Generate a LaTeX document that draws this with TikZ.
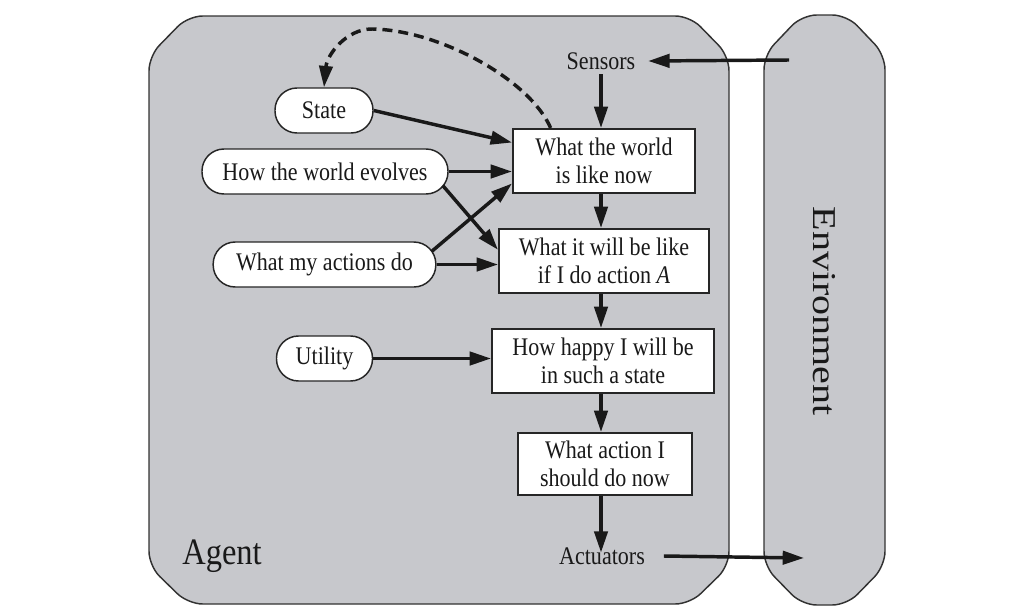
\documentclass[tikz,border=0pt]{standalone}
\usepackage{fontspec}
\setmainfont{Liberation Serif}[FakeStretch=0.87]
\newfontfamily\envfont{Liberation Serif}
\usetikzlibrary{arrows.meta,calc}
\definecolor{panel}{RGB}{199,200,204}
\definecolor{edge}{RGB}{50,50,50}
\begin{document}
\begin{tikzpicture}[x=0.75pt,y=-0.75pt,
  every node/.style={font=\fontsize{19}{21}\selectfont, text=black!90},
  panelbox/.style={draw=edge, line width=1.1pt, fill=panel, rounded corners=11pt},
  proc/.style={draw=black!85, line width=1.5pt, fill=white, align=center, inner sep=0pt, minimum height=48pt},
  pill/.style={draw=black!85, line width=1.1pt, fill=white, rounded corners=16.5pt, inner sep=0pt, minimum height=33.75pt},
  arr/.style={line width=2.6pt, black!90, -{Triangle[length=16pt,width=10pt]}},
  lbl/.style={inner sep=2pt}]
\useasboundingbox (0,0) rectangle (1024,614);
% panels
\draw[panelbox] (149,56) -- (188,16) -- (690,16) -- (729,56) -- (729,566) -- (690,604) -- (188,604) -- (149,566) -- cycle;
\draw[panelbox] (764,55) -- (802,15) -- (847,15) -- (885,55) -- (885,566) -- (847,605) -- (802,605) -- (764,566) -- cycle;
\node[font=\fontsize{28}{30}\selectfont, anchor=base] (agent) at (222,564) {Agent};
\node[rotate=-90, font=\envfont\fontsize{25}{28}\selectfont] (env) at (824,311) {\scalebox{1.2}[1]{Environment}};
% process boxes
\node[proc, minimum width=136.5pt] (world) at (604,161) {What the world\\is like now};
\node[proc, minimum width=157.5pt] (willbe) at (604,261) {What it will be like\\if I do action \textit{A}};
\node[proc, minimum width=166.5pt] (happy) at (603,361) {How happy I will be\\in such a state};
\node[proc, minimum width=131pt, minimum height=46.5pt] (action) at (605,464) {What action I\\should do now};
% pills
\node[pill, minimum width=73.5pt] (state) at (324,110.5) {State};
\node[pill, minimum width=184.5pt] (evolves) at (325,171.5) {How the world evolves};
\node[pill, minimum width=167pt] (actions) at (324.5,264.5) {What my actions do};
\node[pill, minimum width=72pt] (utility) at (324.5,358.5) {Utility};
% sensors / actuators
\node[lbl] (sensors) at (601,61) {Sensors};
\node[lbl] (actuators) at (602,556) {Actuators};
\coordinate (envin) at (789,60);
\coordinate (envout) at (804,558);
% arrows
\draw[arr] (envin) -- ($(sensors.east)+(10,0)$);
\draw[arr] ($(sensors.south)+(0,2)$) -- (sensors.south |- world.north);
\draw[arr] (sensors.south |- world.south) -- (sensors.south |- willbe.north);
\draw[arr] (sensors.south |- willbe.south) -- (sensors.south |- happy.north);
\draw[arr] (sensors.south |- happy.south) -- (sensors.south |- action.north);
\draw[arr] (sensors.south |- action.south) -- ($(actuators.north)+(-1,8)$);
\draw[arr] ($(actuators.east)+(16,0)$) -- (envout);
\draw[arr] (state.east) -- ($(world.north west)!0.22!(world.south west)$);
\draw[arr] (evolves.east) -- (evolves.east -| world.west);
\draw[arr] ($(evolves.east)+(-6,14)$) -- ($(willbe.north west)!0.33!(willbe.south west)$);
\draw[arr] ($(actions.east)+(-5,-13)$) -- ($(world.north west)!0.84!(world.south west)$);
\draw[arr] (actions.east) -- (actions.east -| willbe.west);
\draw[arr] (utility.east) -- (utility.east -| happy.west);
\draw[arr, dash pattern=on 7.5pt off 4.5pt]
  ($(world.north west)!0.21!(world.north east)$) .. controls (530,80) and (440,30) .. (372,29)
  .. controls (346,29) and (327,55) .. (state.north);
\end{tikzpicture}
\end{document}
